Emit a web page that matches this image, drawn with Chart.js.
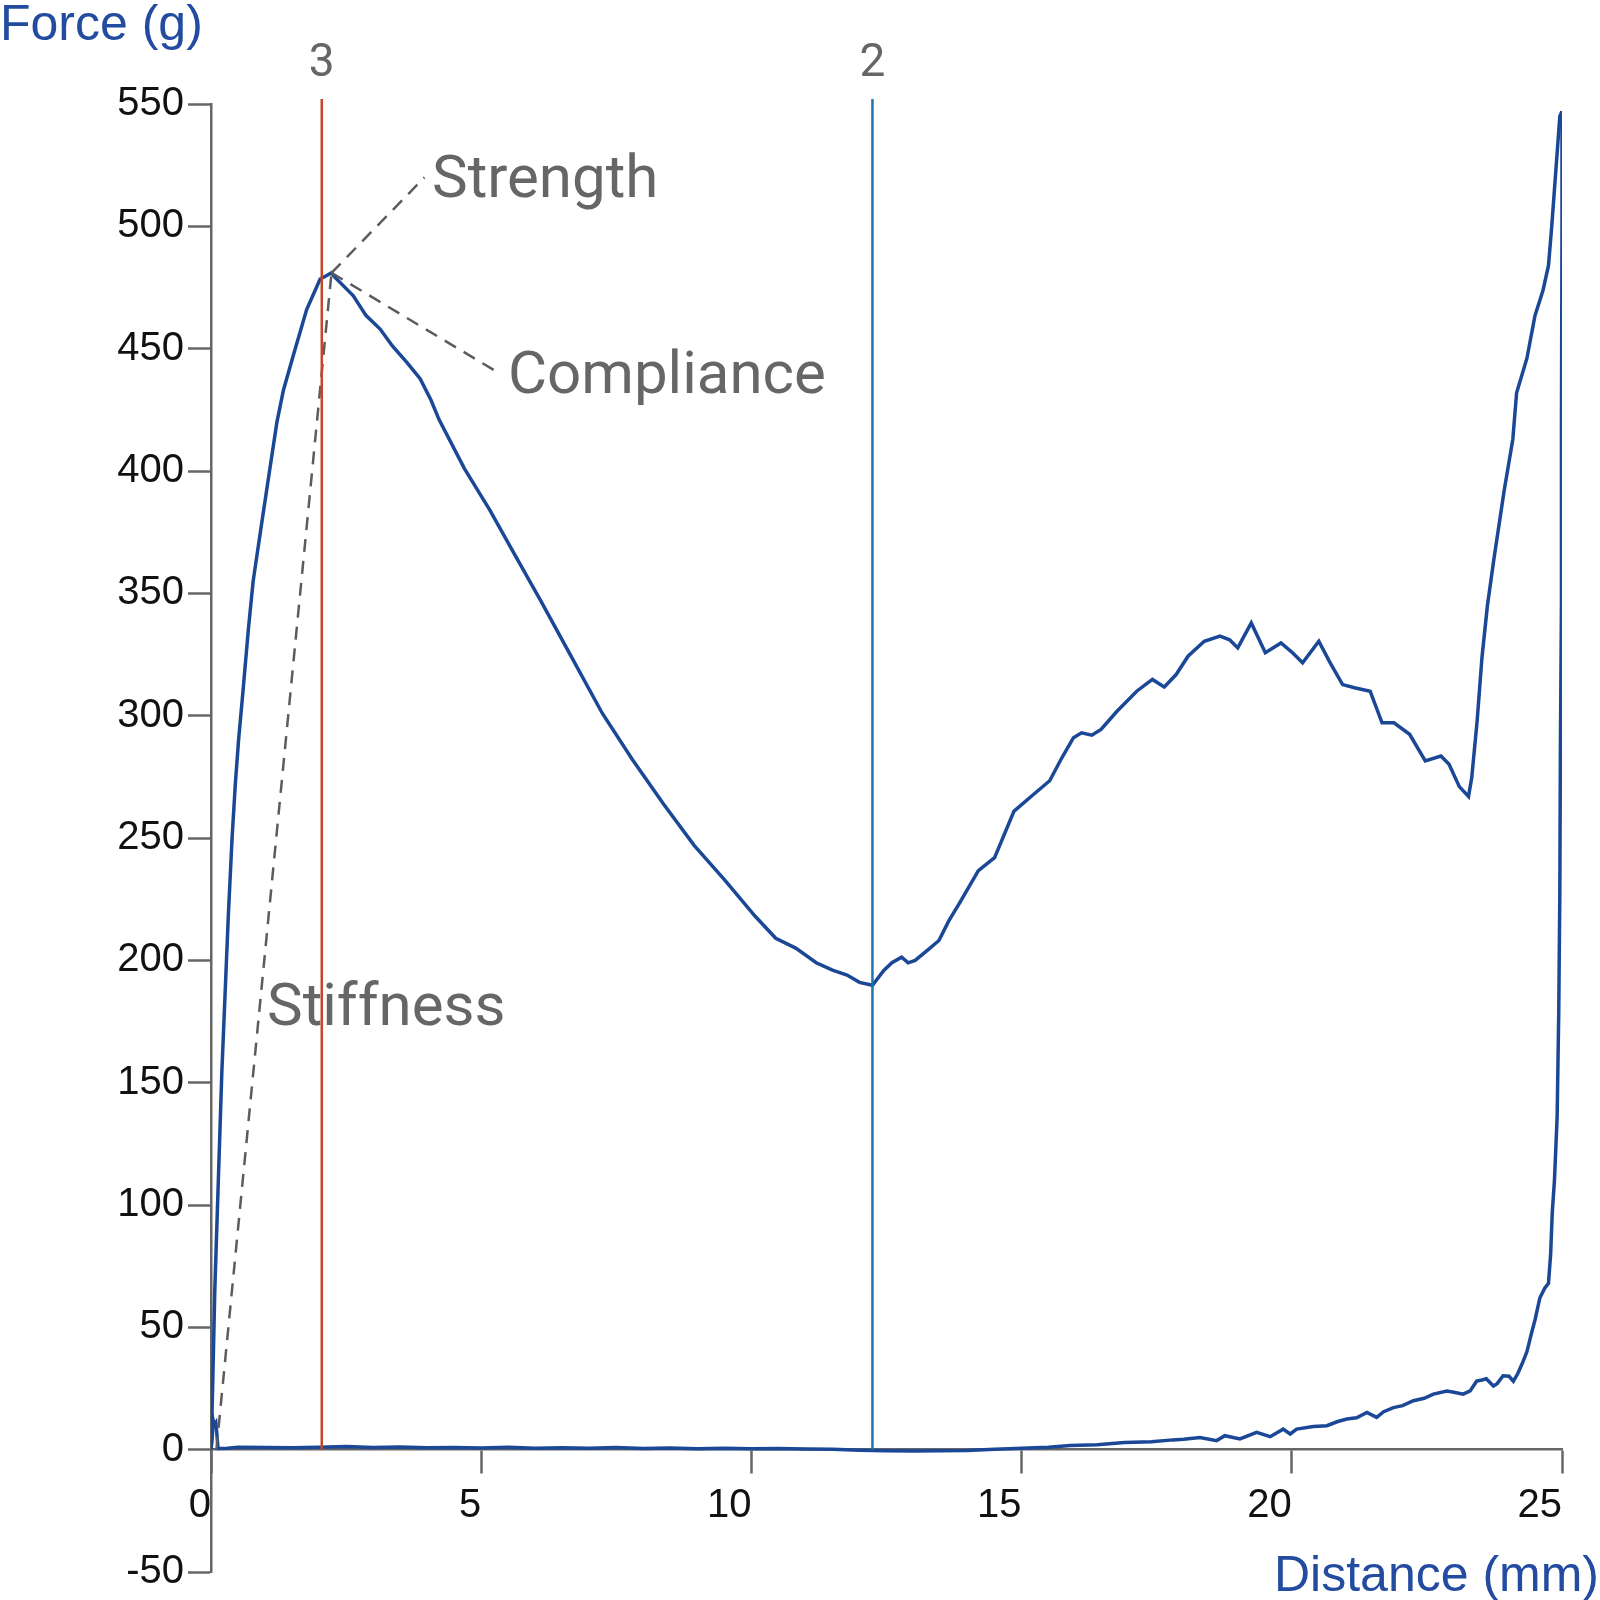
<!DOCTYPE html>
<html>
<head>
<meta charset="utf-8">
<script src="https://cdn.jsdelivr.net/npm/chart.js@4.4.1/dist/chart.umd.min.js"></script>
<style>
  html, body { margin: 0; padding: 0; background: #fff; }
  #wrap { width: 1600px; height: 1600px; }
</style>
</head>
<body>
<div id="wrap"><canvas id="grafico" width="1600" height="1600"></canvas></div>
<script>
// Curva de carga (ida): distancia (mm) y fuerza (g)
const loadDistance = [0, 0.03, 0.07, 0.14, 0.2, 0.26, 0.32, 0.39, 0.45, 0.51, 0.6, 0.69, 0.78, 0.94, 1.09, 1.22, 1.34, 1.52, 1.77, 2.02, 2.15, 2.23, 2.3, 2.63, 2.87, 3.13, 3.36, 3.62, 3.87, 4.07, 4.22, 4.69, 5.16, 5.54, 6.1, 6.67, 7.24, 7.8, 8.37, 8.94, 9.5, 10.07, 10.45, 10.82, 11.2, 11.5, 11.77, 12.0, 12.24, 12.45, 12.6, 12.78, 12.9, 13.03, 13.25, 13.47, 13.65, 13.84, 14.2, 14.5, 14.86, 15.23, 15.52, 15.75, 15.96, 16.11, 16.3, 16.47, 16.77, 17.13, 17.42, 17.64, 17.86, 18.08, 18.38, 18.67, 18.85, 19.0, 19.25, 19.51, 19.8, 20.0, 20.2, 20.5, 20.7, 20.94, 21.16, 21.45, 21.67, 21.89, 22.18, 22.47, 22.76, 22.91, 23.1, 23.27, 23.33, 23.43, 23.52, 23.62, 23.74, 23.93, 24.09, 24.16, 24.35, 24.5, 24.65, 24.75, 24.81, 24.9, 24.96, 25.0];
const loadForce = [0, 25, 65, 113, 154, 186, 218, 250, 272, 290, 312, 335, 355, 379, 401, 420, 433, 447, 466, 478.5, 480, 481, 479, 471.7, 463.5, 458, 451, 444.5, 437.7, 429, 421, 401, 384, 369, 347, 324, 301, 282, 264, 247, 233, 218, 209, 205, 199, 196, 194, 191, 189.8, 195.9, 199, 201.3, 199, 200, 204, 208.1, 216, 223, 236.7, 242, 261, 268, 273.4, 283, 291, 293, 292, 294.4, 301.9, 310, 314.8, 311.7, 316.8, 324.3, 330.4, 332.5, 331, 327.7, 337.9, 325.7, 329.7, 326, 321.6, 330.4, 322, 312.7, 311.4, 310, 297.1, 297.1, 292.4, 281.5, 283.5, 280.1, 271, 267, 274.7, 298, 324, 345, 364, 392, 413, 432, 446, 463.5, 474, 484, 500, 527, 545, 547];

// Curva de retorno (vuelta)
const returnDistance = [25.0, 25.0, 24.99, 24.99, 24.97, 24.96, 24.94, 24.91, 24.86, 24.82, 24.79, 24.75, 24.68, 24.59, 24.5, 24.44, 24.35, 24.26, 24.18, 24.1, 24.02, 23.91, 23.8, 23.73, 23.6, 23.52, 23.42, 23.3, 23.17, 23.0, 22.87, 22.62, 22.45, 22.25, 22.05, 21.88, 21.7, 21.57, 21.39, 21.2, 21.02, 20.85, 20.65, 20.4, 20.09, 19.97, 19.84, 19.6, 19.35, 19.04, 18.76, 18.61, 18.3, 18.0, 17.8, 17.4, 16.9, 16.4, 15.9, 15.5, 15.0, 14.5, 14.0, 13.5, 13.0, 12.5, 12.0, 11.5, 11.0, 10.5, 10.0, 9.5, 9.0, 8.5, 8.0, 7.5, 7.0, 6.5, 6.0, 5.5, 5.0, 4.5, 4.0, 3.5, 3.0, 2.5, 2.0, 1.5, 1.0, 0.5, 0.3, 0.13, 0.11, 0.09, 0.06, 0.04, 0.02, 0];
const returnForce = [547, 500, 420, 347, 285, 228, 179, 136, 110, 97, 80, 68, 66, 62, 53, 48, 40, 35, 31, 28, 30, 30.2, 27, 26, 29, 28.5, 28, 24, 22.7, 23.5, 24, 22.7, 21, 20, 18, 17.2, 15.5, 13.2, 15.2, 13, 12.5, 11.5, 9.8, 9.5, 8.4, 6.4, 8.4, 5.3, 7.1, 4.4, 5.7, 3.7, 5.0, 4.3, 4, 3.2, 2.9, 2.0, 1.7, 1.0, 0.6, 0.2, -0.3, -0.4, -0.5, -0.4, -0.2, 0.2, 0.3, 0.5, 0.4, 0.6, 0.4, 0.7, 0.5, 0.9, 0.6, 0.8, 0.6, 1.0, 0.7, 0.9, 0.8, 1.1, 0.9, 1.3, 1.0, 0.8, 0.9, 1.0, 0.6, 0.5, 6, 11, 10, 12, 4, 0];

// Lineas verticales marcadas
const markerDistance = [2.05, 12.24];
const markerLabels = ['3', '2'];
const markerTop = 552;

// Lineas de guia discontinuas (Stiffness, Strength, Compliance)
const stiffnessX = [0.1, 2.23];
const stiffnessY = [0, 481];
const strengthX = [2.23, 3.95];
const strengthY = [481, 520];
const complianceX = [2.23, 5.33];
const complianceY = [481, 440];

// Marcas de los ejes
const xTicks = [0, 5, 10, 15, 20, 25];
const yTicks = [-50, 0, 50, 100, 150, 200, 250, 300, 350, 400, 450, 500, 550];

const toPoints = (xs, ys) => xs.map((x, i) => ({ x: x, y: ys[i] }));

const curveColor = '#1a4796';
const markerColors = ['#c4472a', '#1f74ae'];
const guideColor = '#5c5c5c';
const textGray = '#666666';

const guideStyle = {
    borderColor: guideColor,
    borderWidth: 2.5,
    borderDash: [13, 9],
    pointRadius: 0,
    tension: 0
};

// Textos: titulos de ejes y anotaciones
const textosPlugin = {
    id: 'textos',
    afterDraw(chart) {
        const ctx = chart.ctx;
        const xs = chart.scales.x;
        ctx.save();
        ctx.fillStyle = '#234ba0';
        ctx.font = '50px "Liberation Sans", Arial, sans-serif';
        ctx.textBaseline = 'alphabetic';
        ctx.textAlign = 'left';
        ctx.fillText('Force (g)', 0, 40);
        ctx.textAlign = 'right';
        ctx.fillText('Distance (mm)', 1599, 1591);

        ctx.fillStyle = textGray;
        ctx.font = '46px Roboto, sans-serif';
        ctx.textAlign = 'center';
        markerDistance.forEach((d, i) => {
            ctx.fillText(markerLabels[i], xs.getPixelForValue(d), 76);
        });

        ctx.font = '60px Roboto, sans-serif';
        ctx.textAlign = 'left';
        ctx.fillText('Strength', 432, 197);
        ctx.fillText('Compliance', 508, 393);
        ctx.fillText('Stiffness', 267, 1025);
        ctx.restore();
    }
};

const ctx = document.getElementById('grafico').getContext('2d');

new Chart(ctx, {
    type: 'line',
    data: {
        datasets: [
            ...markerDistance.map((d, i) => ({
                data: [{ x: d, y: 0 }, { x: d, y: markerTop }],
                borderColor: markerColors[i],
                borderWidth: 2.5,
                pointRadius: 0,
                clip: false
            })),
            Object.assign({ data: toPoints(stiffnessX, stiffnessY) }, guideStyle),
            Object.assign({ data: toPoints(strengthX, strengthY) }, guideStyle),
            Object.assign({ data: toPoints(complianceX, complianceY) }, guideStyle),
            {
                data: toPoints(loadDistance, loadForce),
                borderColor: curveColor,
                borderWidth: 3.5,
                pointRadius: 0,
                tension: 0
            },
            {
                data: toPoints(returnDistance, returnForce),
                borderColor: curveColor,
                borderWidth: 3.5,
                pointRadius: 0,
                tension: 0
            }
        ]
    },
    options: {
        responsive: false,
        animation: false,
        events: [],
        layout: {
            padding: { left: 0, right: 38, top: 104, bottom: 23 }
        },
        plugins: {
            legend: { display: false },
            tooltip: { enabled: false }
        },
        scales: {
            x: {
                type: 'linear',
                position: { y: 0 },
                min: 0,
                max: 25,
                afterBuildTicks: (scale) => { scale.ticks = xTicks.map(v => ({ value: v })); },
                grid: {
                    drawOnChartArea: false,
                    tickLength: 23,
                    tickWidth: 2.5,
                    tickColor: '#666'
                },
                border: { display: true, color: '#666', width: 2.5 },
                ticks: {
                    align: 'end',
                    maxRotation: 0,
                    autoSkip: false,
                    padding: 9,
                    color: '#111',
                    font: { family: '"Liberation Sans", Arial, sans-serif', size: 40 }
                }
            },
            y: {
                type: 'linear',
                position: 'left',
                min: -50,
                max: 550,
                afterBuildTicks: (scale) => { scale.ticks = yTicks.map(v => ({ value: v })); },
                afterFit: (scale) => { scale.width = 211; },
                grid: {
                    drawOnChartArea: false,
                    tickLength: 23,
                    tickWidth: 2.5,
                    tickColor: '#666'
                },
                border: { display: true, color: '#666', width: 2.5 },
                ticks: {
                    padding: 4,
                    color: '#111',
                    font: { family: '"Liberation Sans", Arial, sans-serif', size: 40 }
                }
            }
        }
    },
    plugins: [textosPlugin]
});
</script>
</body>
</html>
